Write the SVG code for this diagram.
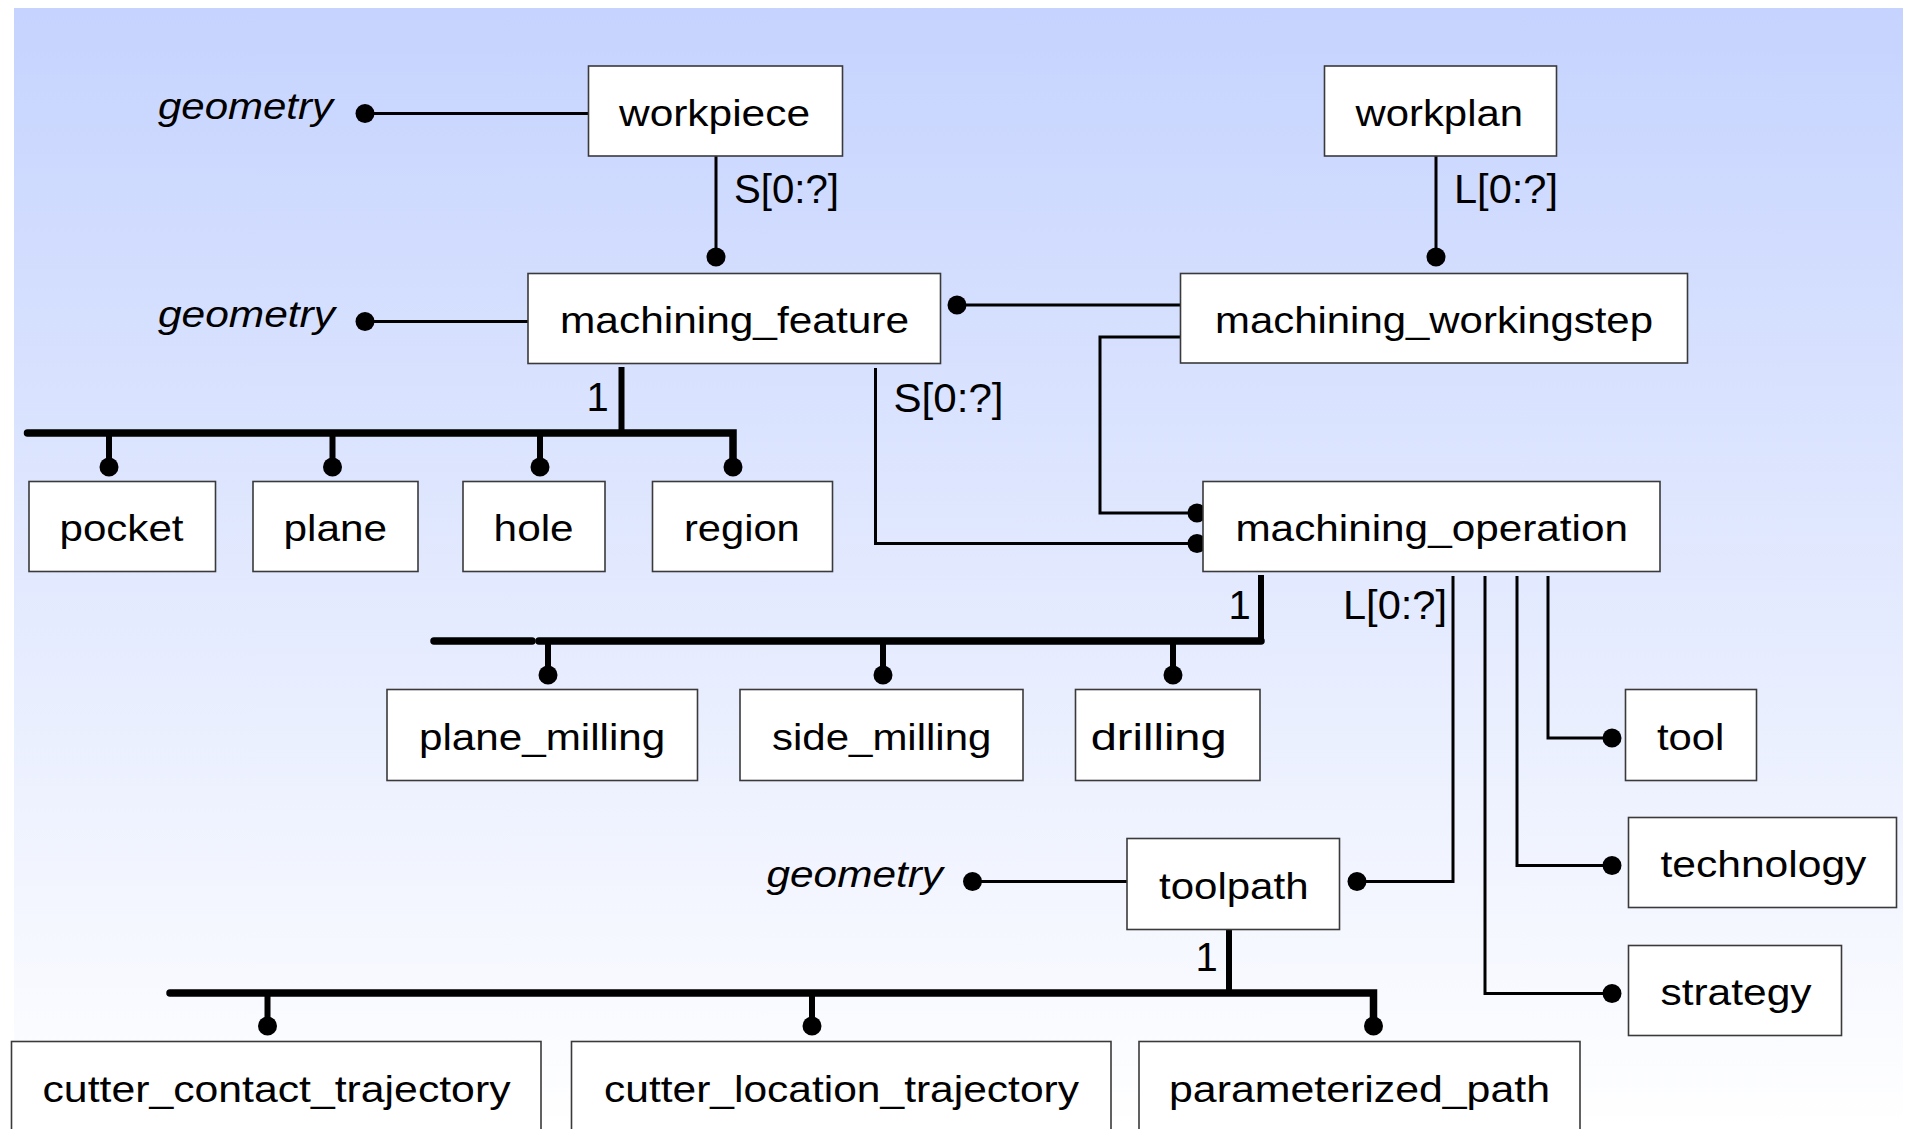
<svg xmlns="http://www.w3.org/2000/svg" xmlns:xlink="http://www.w3.org/1999/xlink" width="1906" height="1129" viewBox="0 0 1906 1129">
<defs>
<linearGradient id="bg" x1="0" y1="0" x2="0" y2="1">
<stop offset="0" stop-color="#C5D3FE"/>
<stop offset="1" stop-color="#FFFFFF"/>
</linearGradient>
<circle id="dot" r="9.5" fill="#000"/>
<style>
.box{fill:#fff;stroke:#3a3a3a;stroke-width:1.6}
.t{font-family:"Liberation Sans",Arial,sans-serif;font-size:37px;fill:#000}
.g{font-family:"Liberation Sans",Arial,sans-serif;font-size:36px;font-style:italic;fill:#000}
.lbl{font-family:"Liberation Sans",Arial,sans-serif;font-size:40px;fill:#000}
.thin{fill:none;stroke:#000;stroke-width:3}
.bus{fill:none;stroke:#000;stroke-width:7.5;stroke-linecap:round;stroke-linejoin:miter}
.stem{fill:none;stroke:#000;stroke-width:6}
</style>
</defs>
<rect x="14" y="8" width="1889" height="1121" fill="url(#bg)"/>

<g id="connectors">
<path class="thin" d="M365,113.5 H588"/>
<path class="thin" d="M365,321.5 H528"/>
<path class="thin" d="M716,156 V257"/>
<path class="thin" d="M1436,156 V257"/>
<path class="thin" d="M957,305 H1181"/>
<path class="thin" d="M1183,337 H1100 V513 H1197"/>
<path class="thin" d="M875.5,368 V543.5 H1197"/>
<path class="thin" d="M1453,576 V881.5 H1357"/>
<path class="thin" d="M972.5,881.5 H1127"/>
<path class="thin" d="M1548,576 V738 H1612"/>
<path class="thin" d="M1517,576 V865.5 H1612"/>
<path class="thin" d="M1485,576 V993.5 H1612"/>

<path class="stem" d="M621.5,367 V433"/>
<path class="bus" d="M27.5,433 H733 V462"/>
<path class="stem" d="M109,433 V466 M332.5,433 V466 M540,433 V466"/>

<path class="stem" d="M1261,575 V641"/>
<path class="bus" d="M1261,641 H539"/>
<path class="bus" d="M532,641 H434"/>
<path class="stem" d="M548,641 V675 M883,641 V675 M1173,641 V675"/>

<path class="stem" d="M1229,929 V993"/>
<path class="bus" d="M170,993 H1373.5 V1022"/>
<path class="stem" d="M267.5,993 V1026 M812,993 V1026"/>

<use xlink:href="#dot" x="365" y="113.5"/>
<use xlink:href="#dot" x="365" y="321.5"/>
<use xlink:href="#dot" x="716" y="257"/>
<use xlink:href="#dot" x="1436" y="257"/>
<use xlink:href="#dot" x="957" y="305"/>
<use xlink:href="#dot" x="1197" y="513"/>
<use xlink:href="#dot" x="1197" y="543.5"/>
<use xlink:href="#dot" x="1357" y="881.5"/>
<use xlink:href="#dot" x="972.5" y="881.5"/>
<use xlink:href="#dot" x="1612" y="738"/>
<use xlink:href="#dot" x="1612" y="865.5"/>
<use xlink:href="#dot" x="1612" y="993.5"/>
<use xlink:href="#dot" x="109" y="467"/>
<use xlink:href="#dot" x="332.5" y="467"/>
<use xlink:href="#dot" x="540" y="467"/>
<use xlink:href="#dot" x="733" y="467"/>
<use xlink:href="#dot" x="548" y="675"/>
<use xlink:href="#dot" x="883" y="675"/>
<use xlink:href="#dot" x="1173" y="675"/>
<use xlink:href="#dot" x="267.5" y="1026"/>
<use xlink:href="#dot" x="812" y="1026"/>
<use xlink:href="#dot" x="1373.5" y="1026"/>

<text class="lbl" x="734" y="203" textLength="105" lengthAdjust="spacingAndGlyphs">S[0:?]</text>
<text class="lbl" x="1454" y="203" textLength="104" lengthAdjust="spacingAndGlyphs">L[0:?]</text>
<text class="lbl" x="586.5" y="411">1</text>
<text class="lbl" x="893.5" y="412" textLength="110" lengthAdjust="spacingAndGlyphs">S[0:?]</text>
<text class="lbl" x="1228.5" y="619">1</text>
<text class="lbl" x="1343" y="619" textLength="104" lengthAdjust="spacingAndGlyphs">L[0:?]</text>
<text class="lbl" x="1195.5" y="971">1</text>
</g>

<g id="attr-geometry-workpiece"><text class="g" x="158" y="119" textLength="175" lengthAdjust="spacingAndGlyphs">geometry</text></g>
<g id="attr-geometry-feature"><text class="g" x="158" y="327" textLength="177" lengthAdjust="spacingAndGlyphs">geometry</text></g>
<g id="attr-geometry-toolpath"><text class="g" x="766.5" y="887" textLength="176.5" lengthAdjust="spacingAndGlyphs">geometry</text></g>

<g id="workpiece"><rect class="box" x="588.5" y="66" width="254" height="90"/><text class="t" x="619" y="126" textLength="191" lengthAdjust="spacingAndGlyphs">workpiece</text></g>
<g id="workplan"><rect class="box" x="1324.5" y="66" width="232" height="90"/><text class="t" x="1355.5" y="126" textLength="167.5" lengthAdjust="spacingAndGlyphs">workplan</text></g>
<g id="machining_feature"><rect class="box" x="528" y="273.5" width="412.5" height="90"/><text class="t" x="560" y="333" textLength="349" lengthAdjust="spacingAndGlyphs">machining_feature</text></g>
<g id="machining_workingstep"><rect class="box" x="1180.5" y="273.5" width="507" height="89.5"/><text class="t" x="1215" y="333" textLength="438" lengthAdjust="spacingAndGlyphs">machining_workingstep</text></g>
<g id="pocket"><rect class="box" x="29" y="481.5" width="186.5" height="90"/><text class="t" x="59.5" y="541" textLength="124" lengthAdjust="spacingAndGlyphs">pocket</text></g>
<g id="plane"><rect class="box" x="253" y="481.5" width="165" height="90"/><text class="t" x="283.5" y="541" textLength="103.5" lengthAdjust="spacingAndGlyphs">plane</text></g>
<g id="hole"><rect class="box" x="463" y="481.5" width="142" height="90"/><text class="t" x="493.6" y="541" textLength="80" lengthAdjust="spacingAndGlyphs">hole</text></g>
<g id="region"><rect class="box" x="652.5" y="481.5" width="180" height="90"/><text class="t" x="684" y="541" textLength="115.7" lengthAdjust="spacingAndGlyphs">region</text></g>
<g id="machining_operation"><rect class="box" x="1203" y="481.5" width="457" height="90"/><text class="t" x="1235.4" y="541" textLength="392.6" lengthAdjust="spacingAndGlyphs">machining_operation</text></g>
<g id="plane_milling"><rect class="box" x="387" y="689.5" width="310.5" height="91"/><text class="t" x="419" y="749.5" textLength="246.3" lengthAdjust="spacingAndGlyphs">plane_milling</text></g>
<g id="side_milling"><rect class="box" x="740" y="689.5" width="283" height="91"/><text class="t" x="772" y="749.5" textLength="219.4" lengthAdjust="spacingAndGlyphs">side_milling</text></g>
<g id="drilling"><rect class="box" x="1075.5" y="689.5" width="184.5" height="91"/><text class="t" x="1090.7" y="749.5" textLength="136" lengthAdjust="spacingAndGlyphs">drilling</text></g>
<g id="tool"><rect class="box" x="1625.5" y="689.5" width="131" height="91"/><text class="t" x="1657" y="749.5" textLength="67.4" lengthAdjust="spacingAndGlyphs">tool</text></g>
<g id="technology"><rect class="box" x="1628.5" y="817.5" width="268" height="90"/><text class="t" x="1660.4" y="877" textLength="206" lengthAdjust="spacingAndGlyphs">technology</text></g>
<g id="strategy"><rect class="box" x="1628.5" y="945.5" width="213" height="90"/><text class="t" x="1660.4" y="1005" textLength="151.2" lengthAdjust="spacingAndGlyphs">strategy</text></g>
<g id="toolpath"><rect class="box" x="1127" y="838.5" width="212.5" height="91"/><text class="t" x="1159" y="898.5" textLength="149.5" lengthAdjust="spacingAndGlyphs">toolpath</text></g>
<g id="cutter_contact_trajectory"><rect class="box" x="11.5" y="1041.5" width="529.5" height="92"/><text class="t" x="42.5" y="1101.5" textLength="468" lengthAdjust="spacingAndGlyphs">cutter_contact_trajectory</text></g>
<g id="cutter_location_trajectory"><rect class="box" x="571.5" y="1041.5" width="539.5" height="92"/><text class="t" x="604" y="1101.5" textLength="475" lengthAdjust="spacingAndGlyphs">cutter_location_trajectory</text></g>
<g id="parameterized_path"><rect class="box" x="1139" y="1041.5" width="441" height="92"/><text class="t" x="1169" y="1101.5" textLength="381" lengthAdjust="spacingAndGlyphs">parameterized_path</text></g>
</svg>
